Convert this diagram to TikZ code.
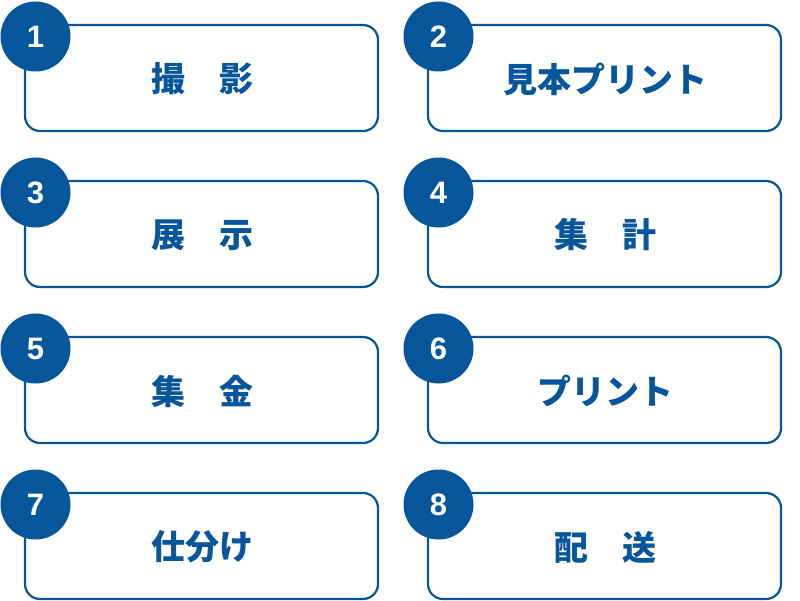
\documentclass[tikz,border=0pt]{standalone}
\usepackage{fontspec}
\setmainfont{Liberation Sans}
\newfontfamily\jpfont{Noto Sans CJK JP}
\definecolor{mainblue}{HTML}{07559B}
\begin{document}
\begin{tikzpicture}[x=1pt,y=-1pt,
  stepbox/.style={draw=mainblue,line width=2.2pt,rounded corners=15pt,fill=white},
  numcirc/.style={circle,fill=mainblue,minimum size=70pt,inner sep=0pt,text=white,font=\bfseries\fontsize{31}{31}\selectfont},
  label/.style={text=mainblue,font=\jpfont\bfseries\fontsize{34}{34}\selectfont,anchor=center}]
\useasboundingbox (0,0) rectangle (800,601);
\foreach \i/\x/\y/\t in {1/25/25/撮　影, 2/428/25/見本プリント, 3/25/181/展　示, 4/428/181/集　計, 5/25/337/集　金, 6/428/337/プリント, 7/25/493/仕分け, 8/428/493/配　送}{
  \draw[stepbox] (\x,\y) rectangle ++(353,106);
  \node[label] (t\i) at (\x+177,\y+54) {\t};
  \node[numcirc] (n\i) at (\x+10.5,\y+11.5) {\i};
}
\end{tikzpicture}
\end{document}
